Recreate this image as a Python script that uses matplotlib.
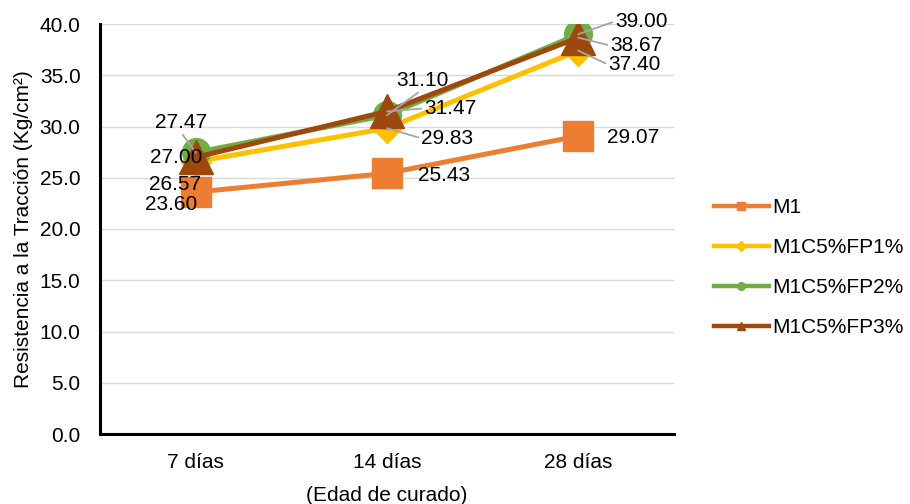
import numpy as np
import matplotlib.pyplot as plt
from matplotlib.lines import Line2D

plt.rcParams['font.family'] = ['Liberation Sans', 'DejaVu Sans']

# data
edades = ['7 días', '14 días', '28 días']
m1 = [23.60, 25.43, 29.07]
fp1 = [26.57, 29.83, 37.40]
fp2 = [27.47, 31.10, 39.00]
fp3 = [27.00, 31.47, 38.67]

nombres = ['M1', 'M1C5%FP1%', 'M1C5%FP2%', 'M1C5%FP3%']
colores = ['#ED7D31', '#FFC000', '#70AD47', '#9E480E']
marcas = ['s', 'D', 'o', '^']
tam_marca = [22, 15, 20, 25]

# label offsets in pixels (dx, dy) and leader attach point on the text box
offs = [
    [(-25, -12, None), (57, -2, None), (55, -1, None)],
    [(-21, -23, None), (60, -10, (0, 0.5)), (56, -14, (0, 0.5))],
    [(-15, 30, (0.5, 0)), (35, 35, (0.5, 0)), (63, 13, (0, 0.5))],
    [(-19, 0, None), (63, 3, (0, 0.5)), (58, -8, (0, 0.5))],
]

x = np.arange(len(edades))

fig = plt.figure(figsize=(9.1, 5.04), dpi=100)
ax = fig.add_axes([100/910, 70/504, 574/910, 410/504])

series = [m1, fp1, fp2, fp3]
for i, vals in enumerate(series):
    ax.plot(x, vals, color=colores[i], lw=3.6, marker=marcas[i],
            ms=tam_marca[i], mfc=colores[i], mec=colores[i], zorder=3 + i)

# data labels
for i, vals in enumerate(series):
    for j, v in enumerate(vals):
        dx, dy, rel = offs[i][j]
        kw = {}
        if rel is not None:
            kw['arrowprops'] = dict(arrowstyle='-', color='#A6A6A6', lw=1.3,
                                    shrinkA=0, shrinkB=0, relpos=rel)
        ax.annotate('%.2f' % v, xy=(x[j], v), xytext=(dx, dy),
                    textcoords='offset pixels', ha='center', va='center',
                    fontsize=15, color='black', zorder=10, **kw)

ax.set_xlim(-0.5, 2.5)
ax.set_ylim(0, 40)
ax.set_yticks(np.arange(0, 40.1, 5))
ax.set_yticklabels(['%.1f' % t for t in np.arange(0, 40.1, 5)])
ax.set_xticks(x)
ax.set_xticklabels(edades)
ax.tick_params(axis='both', length=0, labelsize=15)
ax.tick_params(axis='y', pad=14)
ax.tick_params(axis='x', pad=14)

ax.grid(axis='y', color='#D9D9D9', lw=1)
ax.set_axisbelow(True)
for s in ['top', 'right']:
    ax.spines[s].set_visible(False)
for s in ['left', 'bottom']:
    ax.spines[s].set_color('black')
    ax.spines[s].set_linewidth(2.2)

ax.set_ylabel('Resistencia a la Tracción (Kg/cm²)', fontsize=15, labelpad=5)
ax.set_xlabel('(Edad de curado)', fontsize=15, labelpad=10)

# legend with small markers
handles = [Line2D([], [], color=colores[i], lw=3.2, marker=marcas[i],
                  ms=5.5, mfc=colores[i], mec=colores[i]) for i in range(4)]
fig.legend(handles, nombres, loc='upper left', bbox_to_anchor=(706/910, 1 - 190/504),
           frameon=False, fontsize=15, handlelength=2.6, handletextpad=0.2,
           labelspacing=1.0, borderaxespad=0)

fig.savefig('out.png', dpi=100, facecolor='white')
